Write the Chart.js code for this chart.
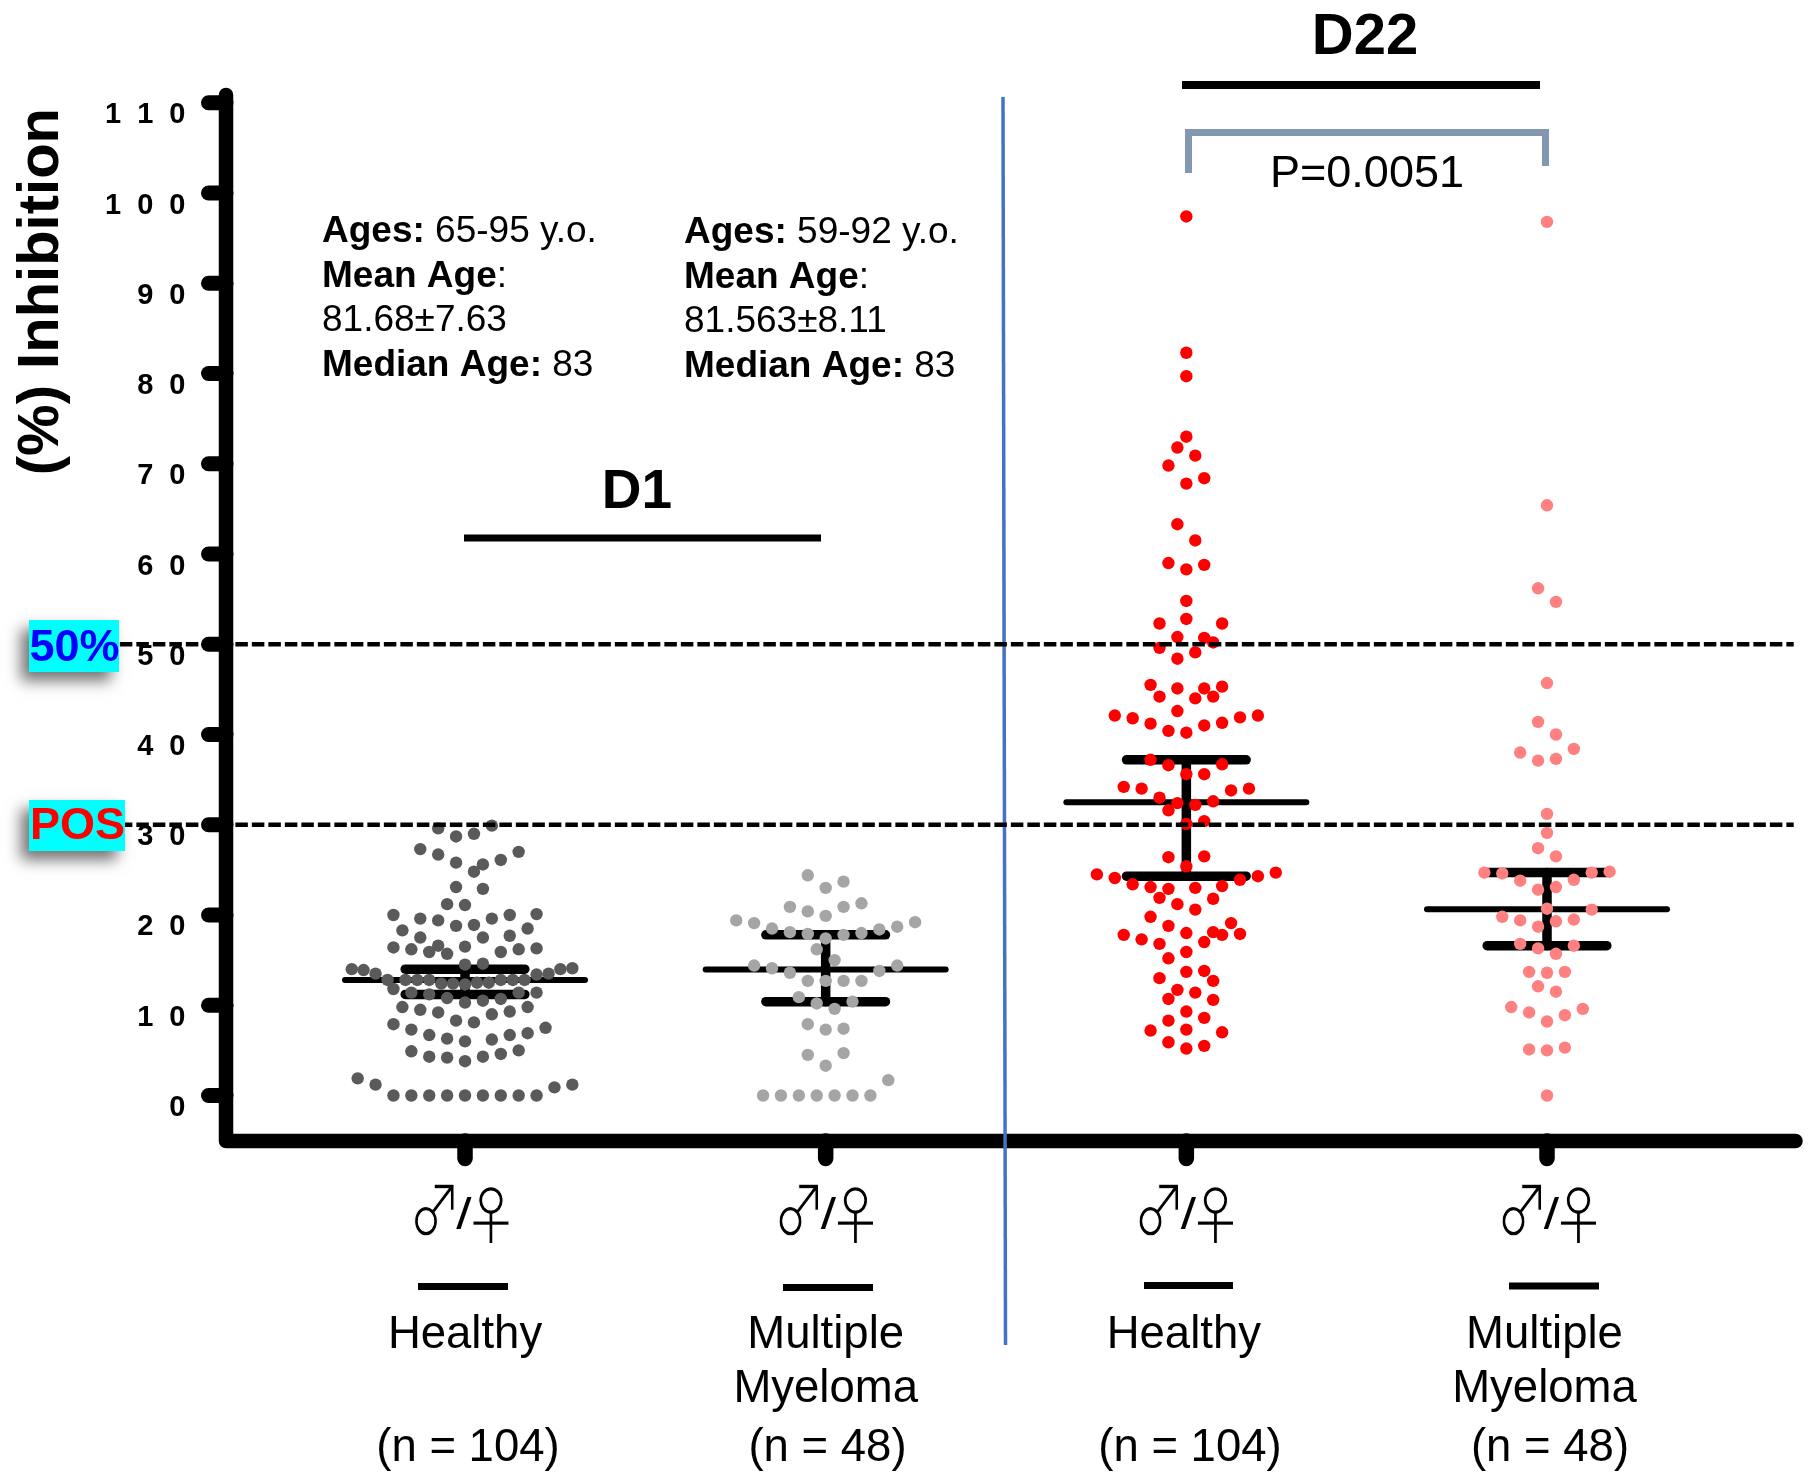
<!DOCTYPE html>
<html>
<head>
<meta charset="utf-8">
<title>Inhibition chart</title>
<script src="https://cdn.jsdelivr.net/npm/chart.js@4"></script>
<style>html,body{margin:0;padding:0;background:#fff}canvas{display:block}</style>
</head>
<body>
<canvas id="c" width="1814" height="1473"></canvas>
<script>
const categories = [["Healthy"],["Multiple","Myeloma"],["Healthy"],["Multiple","Myeloma"]];
const categoryX = [1,2,3,4];
const labelX = [1,2,2.993,3.993];
const groupSizes = ["(n = 104)","(n = 48)","(n = 104)","(n = 48)"];
const yTicks = [0,10,20,30,40,50,60,70,80,90,100,110];
const thresholds = [50,30];

const means = [12.8,13.95,32.5,20.65];
const uppers = [14.0,17.8,37.2,24.7];
const lowers = [11.2,10.4,24.3,16.6];

const d1HealthySlots = [-1.5,1.5,-.5,.5,-2.5,-1.5,3,-.5,2,1,.5,-.5,1,-1,0,-4,-2.5,-1.5,-.5,.5,1.5,2.5,4,-3.5,3.5,-2.5,1,2.5,-4,-3,-2,-1.5,-1,0,2,3,4,0,1,-6.33,-5.67,-5,-4.33,-3.33,-2.67,-2,-1.33,-.67,0,.67,1.33,2,2.67,3.33,4,4.67,5.33,6,-4,-3,-2,-1,0,1,2,3,4,-3.5,-2.5,-1.5,-.5,.5,1.5,2.5,3.5,-4,-3,-2,-1,0,1.5,2.5,3.5,4.5,-3,-2,-1,0,1,2,3,-6,-5,-4,-3,-2,-1,0,1,2,3,4,5,6];
const d1HealthyValues = [29.6,29.9,28.7,29.0,27.3,26.7,27.0,25.8,26.1,25.6,24.8,23.1,22.9,21.2,21.1,20.0,19.6,19.4,18.8,18.9,19.6,20.0,20.1,18.3,18.5,17.5,17.5,17.7,16.4,16.2,15.9,16.6,15.7,16.5,15.9,16.2,16.3,14.5,14.6,14.0,13.9,13.5,12.8,12.8,12.8,12.8,12.4,12.4,12.3,12.5,12.5,12.8,12.8,12.8,13.4,13.5,14.0,14.1,11.8,11.4,11.2,10.8,10.3,10.5,10.7,11.4,11.4,9.8,9.5,9.2,8.3,8.1,9.0,9.3,9.8,7.9,7.3,6.7,6.3,6.0,6.2,6.7,6.9,7.5,4.9,4.3,4.2,3.8,4.3,4.6,5.0,1.9,1.2,0,0,0,0,0,0,0,0,0,0.9,1.2];

const d1MyelomaSlots = [-1,0,1,-2,-1,0,1,2,-5,-4,-3,-2,-1,0,1,2,3,4,5,-.5,.5,-4,-3,-2,3,4,-1,0,1,2,-1.5,-.5,.5,1.5,-1,0,1,-1,0,1,3.5,-3.5,-2.5,-1.5,-.5,.5,1.5,2.5];
const d1MyelomaValues = [24.4,23.0,23.7,20.9,20.4,19.9,20.9,21.3,19.4,19.1,18.5,18.1,17.9,17.4,17.8,18.0,18.4,18.7,19.2,16.2,15.0,14.4,14.1,13.6,13.8,14.4,12.7,12.7,12.7,12.7,10.9,10.2,9.6,10.4,7.9,7.3,7.4,4.5,3.3,4.7,1.7,0,0,0,0,0,0,0];

const d22HealthySlots = [0,0,0,0,-.5,.5,-1,1,0,-.5,.5,-1,1,0,0,0,-1.5,2,-.5,1,1.5,-1.5,.5,-.5,-2,-.5,1,2,-1.5,.5,1.5,-.5,-4,-3,-2,-1,0,1,2,3,4,-2,-1,2,0,1,-3.5,-2.5,-1.5,-.5,.5,1.5,2.5,3.5,-1,0,1,-1,1,0,-5,-4,-3,-2,-1,.5,2,3,4,5,-1.5,-.5,.5,1.5,-2,-1,0,1.5,2,2.5,3,1,-3.5,-2.5,-1.5,0,-1,0,1,-1.5,1.5,-.5,.5,-1,1.5,0,1,-1,0,-2,2,-1,1,0];
const d22HealthyValues = [97.4,82.3,79.7,73.0,71.8,70.9,69.8,68.4,67.8,63.3,61.5,59.0,58.8,58.3,54.8,52.8,52.3,52.3,50.8,50.7,50.2,49.6,49.1,48.4,45.5,45.1,45.1,45.3,44.2,44.0,44.2,42.6,42.1,41.8,41.2,40.4,40.2,41.0,41.3,41.9,42.1,37.2,36.6,36.7,35.6,35.6,34.2,34.0,33.0,32.4,32.2,32.6,33.8,34.0,31.6,30.1,30.4,26.4,26.5,25.4,24.5,24.1,23.4,23.1,22.9,23.0,23.2,23.9,24.3,24.7,21.9,21.2,20.6,21.8,19.8,18.8,18.0,18.1,17.8,19.1,17.9,17.0,17.8,17.3,16.8,15.9,15.2,13.7,13.8,13.0,12.7,11.7,11.4,10.7,10.6,9.3,8.6,8.3,7.3,7.2,7.0,5.9,5.5,5.2];

const d22MyelomaSlots = [0,0,-.5,.5,0,-.5,.5,-1.5,-.5,.5,1.5,0,0,-.5,.5,-3.5,-2.5,-1.5,-.5,.5,1.5,2.5,3.5,0,2.5,-2.5,-1.5,-.5,.5,1.5,-1.5,-.5,.5,1.5,-1,0,1,-.5,.5,-2,-1,0,1,2,-1,0,1,0];
const d22MyelomaValues = [96.8,65.4,56.2,54.7,45.7,41.4,40.0,38.0,37.1,37.3,38.4,31.2,29.1,27.4,26.5,24.7,24.6,23.8,22.8,23.1,23.9,24.7,24.8,20.7,20.6,19.8,19.4,18.7,19.3,19.5,16.8,16.3,15.7,16.6,13.7,13.6,13.7,12.1,11.5,9.8,9.2,8.2,8.9,9.6,5.1,5.0,5.3,0];

const seriesSlots = [d1HealthySlots,d1MyelomaSlots,d22HealthySlots,d22MyelomaSlots];
const seriesValues = [d1HealthyValues,d1MyelomaValues,d22HealthyValues,d22MyelomaValues];
const seriesColors = ['#5a5a5a','#a5a5a8','#ff0000','#ff8080'];

const SLOT = 0.0496;
const MEAN_HALF = 0.3327;
const SD_HALF = 0.1658;
const DASH_X = [0.043,4.684];

const datasets = [];
thresholds.forEach(t => datasets.push({
  data: DASH_X.map(x => ({x, y:t})), showLine:true, pointRadius:0, borderColor:'#000',
  borderWidth:4.5, borderDash:[12.5,4], clip:false, order:0
}));
seriesValues.forEach((vals,i) => datasets.push({
  data: vals.map((v,k) => ({x:categoryX[i]+seriesSlots[i][k]*SLOT, y:v})),
  showLine:false, pointRadius:6.2, pointBorderWidth:0, pointBackgroundColor:seriesColors[i], clip:false, order:1
}));
categoryX.forEach((cx,i) => {
  const line = (pts,w) => datasets.push({data:pts, showLine:true, pointRadius:0, borderColor:'#000',
    borderWidth:w, borderCapStyle:'round', clip:false, order:2});
  line([{x:cx-MEAN_HALF,y:means[i]},{x:cx+MEAN_HALF,y:means[i]}],6);
  line([{x:cx-SD_HALF,y:uppers[i]},{x:cx+SD_HALF,y:uppers[i]}],9.5);
  line([{x:cx-SD_HALF,y:lowers[i]},{x:cx+SD_HALF,y:lowers[i]}],9.5);
  line([{x:cx,y:uppers[i]},{x:cx,y:lowers[i]}],9.5);
});

const SANS = '"Liberation Sans", Arial, sans-serif';

const axesPlugin = {
  id:'axes',
  beforeDatasetsDraw(chart){
    const {ctx, chartArea:a, scales:{x,y}} = chart;
    ctx.save();
    ctx.strokeStyle='#000'; ctx.lineCap='round'; ctx.lineJoin='round';
    ctx.lineWidth=14.5;
    ctx.beginPath(); ctx.moveTo(a.left,a.top); ctx.lineTo(a.left,a.bottom); ctx.lineTo(a.right,a.bottom); ctx.stroke();
    ctx.lineWidth=15;
    y.ticks.forEach(t => { const p=y.getPixelForValue(t.value);
      ctx.beginPath(); ctx.moveTo(208.5,p); ctx.lineTo(a.left,p); ctx.stroke(); });
    ctx.lineWidth=15.5;
    categoryX.forEach(v => { const p=x.getPixelForValue(v);
      ctx.beginPath(); ctx.moveTo(p,a.bottom); ctx.lineTo(p,1158.5); ctx.stroke(); });
    ctx.lineCap='butt'; ctx.strokeStyle='#4472c4'; ctx.lineWidth=3.5;
    ctx.beginPath(); ctx.moveTo(1003,97); ctx.lineTo(1005.5,1345); ctx.stroke();
    ctx.restore();
  }
};

function txt(ctx,s,x,y,font,color,align){
  ctx.font=font; ctx.fillStyle=color||'#000'; ctx.textAlign=align||'left'; ctx.textBaseline='alphabetic';
  ctx.fillText(s,x,y);
}
function mixed(ctx,x,y,bold,plain){
  const fb='bold 37px '+SANS, fp='37px '+SANS;
  txt(ctx,bold,x,y,fb);
  const w=ctx.measureText(bold).width;
  if(plain) txt(ctx,plain,x+w,y,fp);
}
function symbol(ctx,s,x,y,sx,sy){
  ctx.save();
  ctx.translate(x,y); ctx.scale(sx,sy);
  txt(ctx,s,0,0,'60px "Noto Sans CJK JP"','#000','center');
  ctx.strokeStyle='#fff'; ctx.lineWidth=1.1;
  ctx.strokeText(s,0,0);
  ctx.restore();
}
const ageColumns = [
  {x:322,dy:0,lines:[["Ages:"," 65-95 y.o."],["Mean Age",":"],["","81.68±7.63"],["Median Age:"," 83"]]},
  {x:684,dy:1,lines:[["Ages:"," 59-92 y.o."],["Mean Age",":"],["","81.563±8.11"],["Median Age:"," 83"]]}
];
const ageBaselines=[241.5,286.5,331,375.5];
const symbolOffsets=[0,364.5,724.5,1087.5];
const underlines=[[418,508,1286.5],[783,873,1287.5],[1144,1233,1285.5],[1509,1599,1286]];
const sizeCenters=[468,827.5,1190,1550];

const annotationPlugin = {
  id:'notes',
  afterDraw(chart){
    const ctx=chart.ctx;
    ctx.save();
    ctx.save();
    ctx.translate(58,108); ctx.rotate(-Math.PI/2);
    txt(ctx,'(%) Inhibition',0,0,'bold 58px '+SANS,'#000','right');
    ctx.restore();
    ageColumns.forEach(c => c.lines.forEach((l,i)=>mixed(ctx,c.x,ageBaselines[i]+c.dy,l[0],l[1])));
    txt(ctx,'D1',637,507.5,'bold 55px '+SANS,'#000','center');
    txt(ctx,'D22',1365,54,'bold 58px '+SANS,'#000','center');
    ctx.fillStyle='#000';
    ctx.fillRect(464,534.5,357,7);
    ctx.fillRect(1182,81,358,8);
    ctx.strokeStyle='#8497b0'; ctx.lineWidth=7; ctx.lineCap='butt'; ctx.lineJoin='miter';
    ctx.beginPath(); ctx.moveTo(1188.5,173); ctx.lineTo(1188.5,132.5); ctx.lineTo(1545.5,132.5); ctx.lineTo(1545.5,166); ctx.stroke();
    txt(ctx,'P=0.0051',1367,187,'45px '+SANS,'#000','center');
    symbolOffsets.forEach((o,i)=>{
      symbol(ctx,'♂',435+o,1236,0.88,1.15);
      ctx.save(); ctx.translate(464+o,1229); ctx.scale(1.25,1);
      txt(ctx,'/',0,0,'44px '+SANS,'#000','center');
      ctx.restore();
      symbol(ctx,'♀',491+o,1239,0.94,1.06);
      ctx.fillStyle='#000';
      ctx.fillRect(underlines[i][0],underlines[i][2]-3.5,underlines[i][1]-underlines[i][0],7);
      txt(ctx,groupSizes[i],sizeCenters[i],1461,'45.5px '+SANS,'#000','center');
    });
    const tag=(x,y,w,h,label,tx,ty,col)=>{
      ctx.save();
      ctx.shadowColor='rgba(0,0,0,0.55)'; ctx.shadowBlur=14; ctx.shadowOffsetX=-8; ctx.shadowOffsetY=9;
      ctx.fillStyle='#00ffff'; ctx.fillRect(x,y,w,h);
      ctx.restore();
      txt(ctx,label,tx,ty,'bold 45px '+SANS,col,'center');
    };
    tag(29,620,90,52,'50%',74.5,661,'#0000ff');
    tag(29,800,96,51,'POS',77.5,839,'#ff0000');
    ctx.restore();
  }
};

new Chart(document.getElementById('c'),{
  type:'scatter',
  data:{datasets},
  plugins:[axesPlugin,annotationPlugin],
  options:{
    responsive:false, animation:false,
    devicePixelRatio:1,
    layout:{padding:{top:95,right:18.5,left:0,bottom:0}},
    plugins:{legend:{display:false},tooltip:{enabled:false}},
    scales:{
      x:{
        type:'linear', min:0.3373, max:4.689,
        afterFit(s){s.height=332;},
        afterBuildTicks(s){s.ticks=labelX.map(v=>({value:v}));},
        border:{display:false},
        grid:{display:false,drawTicks:false},
        ticks:{
          autoSkip:false,maxRotation:0,minRotation:0,padding:167.5,color:'#000',
          font:{family:SANS,size:45.5,lineHeight:1.18},
          callback:(v,i)=>categories[i]
        }
      },
      y:{
        type:'linear', min:-5.042, max:110.86,
        afterFit(s){s.width=226;},
        afterBuildTicks(s){s.ticks=yTicks.map(v=>({value:v}));},
        border:{display:false},
        grid:{display:false,drawTicks:false},
        ticks:{
          autoSkip:false,padding:40.5,labelOffset:12.5,color:'#000',
          font:{family:SANS,size:29,weight:'bold'},
          callback:(v)=>String(v).split('').join('  ')
        }
      }
    }
  }
});
</script>
</body>
</html>
